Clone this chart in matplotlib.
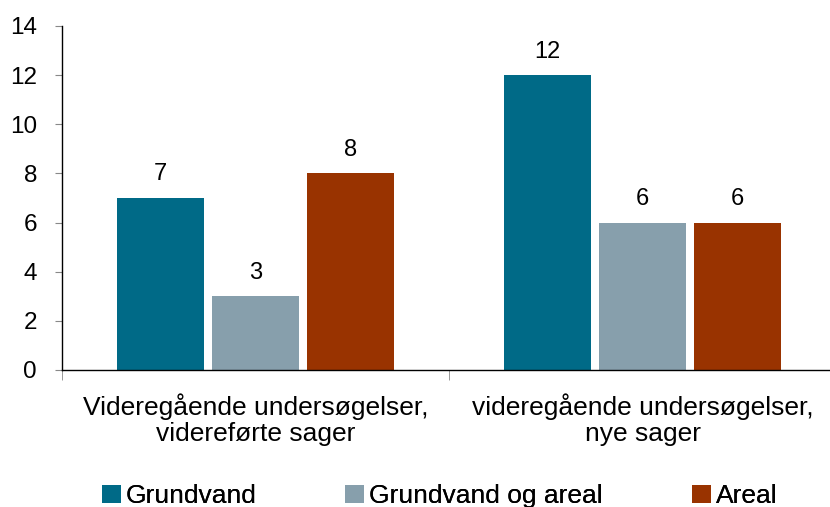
import matplotlib
matplotlib.use("Agg")
import matplotlib.pyplot as plt
import numpy as np

plt.rcParams['font.family'] = ['Liberation Sans', 'DejaVu Sans']

kategorier = ["Videregående undersøgelser,\nvidereførte sager",
              "videregående undersøgelser,\nnye sager"]
serier = ["Grundvand", "Grundvand og areal", "Areal"]
grundvand = [7, 12]
grundvand_areal = [3, 6]
areal = [8, 6]
farver = ["#006A87", "#879FAC", "#993300"]

fig = plt.figure(figsize=(8.30, 5.07), dpi=100)
ax = fig.add_axes([62 / 830, 137 / 507, 774 / 830, 344 / 507])

x = np.arange(len(kategorier))
bredde = 0.225
afstand = 0.245
soejler = []
for i, (navn, vaerdier) in enumerate(zip(serier, [grundvand, grundvand_areal, areal])):
    pos = x + (i - 1) * afstand
    b = ax.bar(pos, vaerdier, bredde, color=farver[i], label=navn)
    soejler.append(b)
    for p, v in zip(pos, vaerdier):
        ax.annotate(str(v), (p, v), xytext=(0, 9), textcoords="offset points",
                    ha="center", va="bottom", fontsize=17)

ax.set_xlim(-0.5, 1.5)
ax.set_ylim(0, 14)
ax.set_yticks(range(0, 15, 2))
ax.tick_params(axis="y", labelsize=17.5, length=5, color="#888888", pad=13)
ax.set_xticks(x)
ax.set_xticklabels(kategorier, fontsize=19, linespacing=1.1)
ax.tick_params(axis="x", length=0, pad=17)
ax.set_xticks([-0.5, 0.5, 1.5], minor=True)
ax.tick_params(axis="x", which="minor", length=7, color="#888888")

for s in ["top", "right"]:
    ax.spines[s].set_visible(False)
ax.spines["left"].set_linewidth(1.0)
ax.spines["bottom"].set_linewidth(1.0)

# en legend pr. serie, placeret som i forlaegget
for b, navn, xpos in zip(soejler, serier, [97, 340, 687]):
    lg = fig.legend([b], [navn], loc="lower left", bbox_to_anchor=(xpos / 830, -0.013),
                    frameon=False, fontsize=19, handlelength=0.7, handleheight=0.7,
                    handletextpad=0.2, borderpad=0.2, borderaxespad=0)
    fig.add_artist(lg)

fig.savefig("out.png", dpi=100)
